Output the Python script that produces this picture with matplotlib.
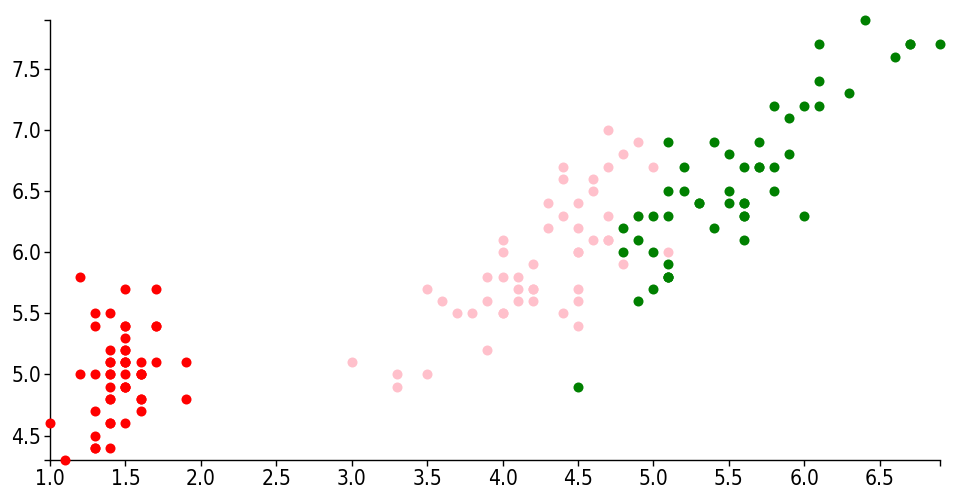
import matplotlib
matplotlib.use("Agg")
import matplotlib.pyplot as plt

plt.rcParams['font.family'] = ['DejaVu Sans']
plt.rcParams['font.stretch'] = 'condensed'

# iris: petal length (x) vs sepal length (y)
setosa_petal = [1.4, 1.4, 1.3, 1.5, 1.4, 1.7, 1.4, 1.5, 1.4, 1.5,
                1.5, 1.6, 1.4, 1.1, 1.2, 1.5, 1.3, 1.4, 1.7, 1.5,
                1.7, 1.5, 1.0, 1.7, 1.9, 1.6, 1.6, 1.5, 1.4, 1.6,
                1.6, 1.5, 1.5, 1.4, 1.5, 1.2, 1.3, 1.5, 1.3, 1.5,
                1.3, 1.3, 1.3, 1.6, 1.9, 1.4, 1.6, 1.4, 1.5, 1.4]
setosa_sepal = [5.1, 4.9, 4.7, 4.6, 5.0, 5.4, 4.6, 5.0, 4.4, 4.9,
                5.4, 4.8, 4.8, 4.3, 5.8, 5.7, 5.4, 5.1, 5.7, 5.1,
                5.4, 5.1, 4.6, 5.1, 4.8, 5.0, 5.0, 5.2, 5.2, 4.7,
                4.8, 5.4, 5.2, 5.5, 4.9, 5.0, 5.5, 4.9, 4.4, 5.1,
                5.0, 4.5, 4.4, 5.0, 5.1, 4.8, 5.1, 4.6, 5.3, 5.0]

versicolor_petal = [4.7, 4.5, 4.9, 4.0, 4.6, 4.5, 4.7, 3.3, 4.6, 3.9,
                    3.5, 4.2, 4.0, 4.7, 3.6, 4.4, 4.5, 4.1, 4.5, 3.9,
                    4.8, 4.0, 4.9, 4.7, 4.3, 4.4, 4.8, 5.0, 4.5, 3.5,
                    3.8, 3.7, 3.9, 5.1, 4.5, 4.5, 4.7, 4.4, 4.1, 4.0,
                    4.4, 4.6, 4.0, 3.3, 4.2, 4.2, 4.2, 4.3, 3.0, 4.1]
versicolor_sepal = [7.0, 6.4, 6.9, 5.5, 6.5, 5.7, 6.3, 4.9, 6.6, 5.2,
                    5.0, 5.9, 6.0, 6.1, 5.6, 6.7, 5.6, 5.8, 6.2, 5.6,
                    5.9, 6.1, 6.3, 6.1, 6.4, 6.6, 6.8, 6.7, 6.0, 5.7,
                    5.5, 5.5, 5.8, 6.0, 5.4, 6.0, 6.7, 6.3, 5.6, 5.5,
                    5.5, 6.1, 5.8, 5.0, 5.6, 5.7, 5.7, 6.2, 5.1, 5.7]

virginica_petal = [6.0, 5.1, 5.9, 5.6, 5.8, 6.6, 4.5, 6.3, 5.8, 6.1,
                   5.1, 5.3, 5.5, 5.0, 5.1, 5.3, 5.5, 6.7, 6.9, 5.0,
                   5.7, 4.9, 6.7, 4.9, 5.7, 6.0, 4.8, 4.9, 5.6, 5.8,
                   6.1, 6.4, 5.6, 5.1, 5.6, 6.1, 5.6, 5.5, 4.8, 5.4,
                   5.6, 5.1, 5.1, 5.9, 5.7, 5.2, 5.0, 5.2, 5.4, 5.1]
virginica_sepal = [6.3, 5.8, 7.1, 6.3, 6.5, 7.6, 4.9, 7.3, 6.7, 7.2,
                   6.5, 6.4, 6.8, 5.7, 5.8, 6.4, 6.5, 7.7, 7.7, 6.0,
                   6.9, 5.6, 7.7, 6.3, 6.7, 7.2, 6.2, 6.1, 6.4, 7.2,
                   7.4, 7.9, 6.4, 6.3, 6.1, 7.7, 6.3, 6.4, 6.0, 6.9,
                   6.7, 6.9, 5.8, 6.8, 6.7, 6.7, 6.3, 6.5, 6.2, 5.9]

x_ticks = [1.0, 1.5, 2.0, 2.5, 3.0, 3.5, 4.0, 4.5, 5.0, 5.5, 6.0, 6.5]
y_ticks = [4.5, 5.0, 5.5, 6.0, 6.5, 7.0, 7.5]

fig = plt.figure(figsize=(9.6, 5), dpi=100)
ax = fig.add_axes([50 / 960, 40 / 500, 890 / 960, 440 / 500])

size = 52
for xs, ys, c in [(setosa_petal, setosa_sepal, 'red'),
                  (versicolor_petal, versicolor_sepal, 'pink'),
                  (virginica_petal, virginica_sepal, 'green')]:
    ax.scatter(xs, ys, s=size, color=c, linewidths=0, clip_on=False, zorder=3)

all_x = setosa_petal + versicolor_petal + virginica_petal
all_y = setosa_sepal + versicolor_sepal + virginica_sepal
ax.set_xlim(min(all_x), max(all_x))
ax.set_ylim(min(all_y), max(all_y))

ax.set_xticks(x_ticks)
ax.set_xticklabels([f"{v:.1f}" for v in x_ticks])
ax.set_yticks(y_ticks)
ax.set_yticklabels([f"{v:.1f}" for v in y_ticks])
# d3-like outer ticks at the domain ends
ax.set_xticks([max(all_x)], minor=True)
ax.set_yticks([min(all_y), max(all_y)], minor=True)

ax.tick_params(which='both', length=4.3, width=1, pad=2, labelsize=15, color='black')
ax.spines['top'].set_visible(False)
ax.spines['right'].set_visible(False)
for s in ('left', 'bottom'):
    ax.spines[s].set_linewidth(1)

fig.savefig("out.png", dpi=100)
